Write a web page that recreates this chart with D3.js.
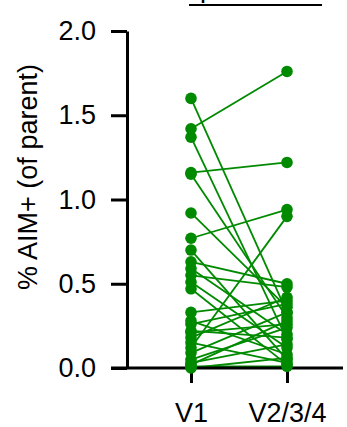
<!DOCTYPE html>
<html>
<head>
<meta charset="utf-8">
<script src="https://cdn.jsdelivr.net/npm/d3@7"></script>
<style>
  html, body { margin: 0; padding: 0; background: #fff; }
  svg { display: block; font-family: "Liberation Sans", Arial, sans-serif; }
</style>
</head>
<body>
<div id="chart"></div>
<script>
// timepoints on the x axis
const visits = ['V1', 'V2/3/4'];
// paired values per donor (% AIM+ of parent)
const v1Values = [1.60, 1.42, 1.37, 1.16, 1.15, 0.92, 0.77, 0.70, 0.63, 0.59, 0.55, 0.51, 0.47,
  0.33, 0.28, 0.26, 0.21, 0.18, 0.15, 0.12, 0.09, 0.05, 0.03, 0.01, 0.02, 0.00, 0.22];
const v2Values = [0.33, 1.76, 0.17, 1.22, 0.30, 0.36, 0.94, 0.05, 0.50, 0.20, 0.48, 0.12, 0.02,
  0.40, 0.08, 0.38, 0.26, 0.42, 0.03, 0.90, 0.33, 0.24, 0.14, 0.01, 0.28, 0.06, 0.18];
const yTicks = [0, 0.5, 1.0, 1.5, 2.0];
const yLabel = '% AIM+ (of parent)';

const width = 347, height = 427;
const green = '#008a00';

const svg = d3.select('#chart').append('svg')
  .attr('width', width)
  .attr('height', height);

const x = d3.scalePoint().domain(visits).range([191, 287]);
const y = d3.scaleLinear().domain([0, 2]).range([368, 31]);

// bracket above the groups (label text mostly cropped)
svg.append('line')
  .attr('x1', 189).attr('x2', 322)
  .attr('y1', 5).attr('y2', 5)
  .attr('stroke', '#000').attr('stroke-width', 2);
svg.append('text')
  .attr('x', 200).attr('y', -3)
  .attr('font-size', 27)
  .text('p');

// paired lines
const pairs = v1Values.map((v, i) => [v, v2Values[i]]);
svg.append('g')
  .selectAll('line')
  .data(pairs)
  .join('line')
  .attr('x1', x(visits[0]))
  .attr('x2', x(visits[1]))
  .attr('y1', d => y(d[0]))
  .attr('y2', d => y(d[1]))
  .attr('stroke', green)
  .attr('stroke-width', 1.8);

// axes
const yAxis = svg.append('g')
  .attr('transform', 'translate(127,0)')
  .call(d3.axisLeft(y).tickValues(yTicks).tickFormat(d3.format('.1f')).tickSize(16).tickPadding(15).tickSizeOuter(0));
yAxis.select('.domain').attr('stroke-width', 3);
yAxis.selectAll('.tick line').attr('stroke-width', 3);
yAxis.selectAll('text').attr('font-size', 27).attr('font-family', '"Liberation Sans", Arial, sans-serif').attr('fill', '#000');

const xAxis = svg.append('g')
  .attr('transform', 'translate(0,368)')
  .call(d3.axisBottom(x).tickSize(15).tickPadding(20).tickSizeOuter(0));
xAxis.select('.domain').attr('d', 'M111,0H343').attr('stroke-width', 3);
xAxis.selectAll('.tick line').attr('stroke-width', 3);
xAxis.selectAll('text').attr('font-size', 27).attr('font-family', '"Liberation Sans", Arial, sans-serif').attr('fill', '#000');

// dots drawn over the axis
const dots = svg.append('g');
visits.forEach((vis, k) => {
  const vals = k === 0 ? v1Values : v2Values;
  dots.selectAll('circle.g' + k)
    .data(vals)
    .join('circle')
    .attr('class', 'g' + k)
    .attr('cx', x(vis))
    .attr('cy', d => y(d))
    .attr('r', 5.8)
    .attr('fill', green);
});

// y axis title
svg.append('text')
  .attr('transform', 'translate(37,177) rotate(-90)')
  .attr('text-anchor', 'middle')
  .attr('font-size', 27)
  .text(yLabel);
</script>
</body>
</html>
